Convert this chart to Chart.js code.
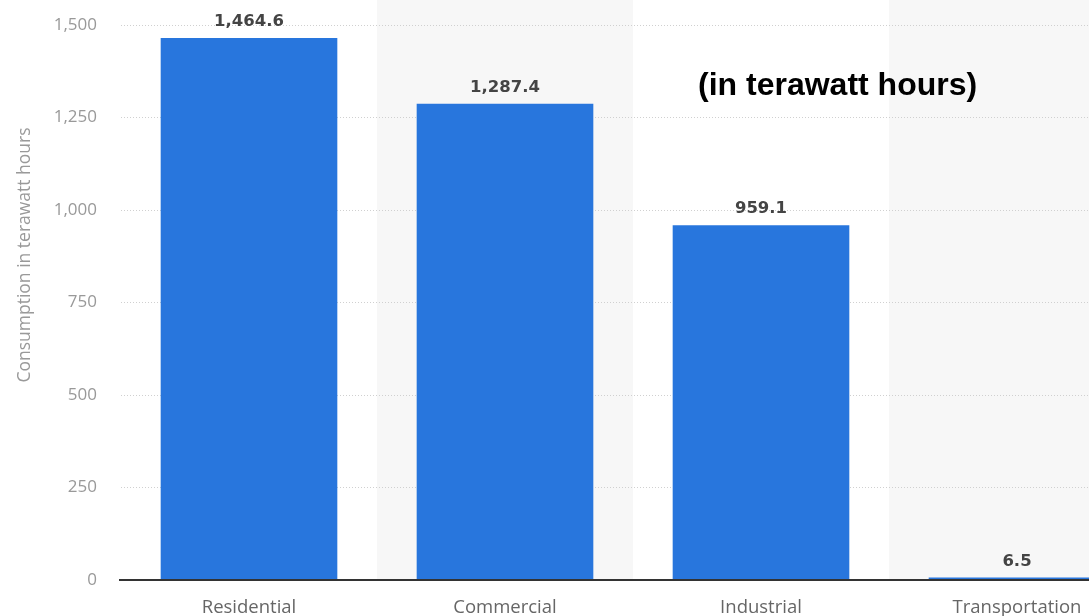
<!DOCTYPE html>
<html>
<head>
<meta charset="utf-8">
<script src="https://cdn.jsdelivr.net/npm/chart.js@4"></script>
<style>
  html, body { margin: 0; padding: 0; overflow: hidden; background: #fff; }
  #wrap { width: 1160px; height: 616px; }
</style>
</head>
<body>
<div id="wrap"><canvas id="usage"></canvas></div>
<script>
// chart values
const sectors = ["Residential", "Commercial", "Industrial", "Transportation"];
const consumption = [1464.6, 1287.4, 959.1, 6.5];
const yTicks = [0, 250, 500, 750, 1000, 1250, 1500];
const yTitle = "Consumption in terawatt hours";
const note = "(in terawatt hours)";

const fmt = (v, d) => v.toLocaleString('en-US', { minimumFractionDigits: d, maximumFractionDigits: d });

// alternating light bands behind every second category
const bands = {
  id: 'bands',
  beforeDraw(chart) {
    const { ctx, chartArea, scales } = chart;
    const x = scales.x;
    const step = x.getPixelForValue(1) - x.getPixelForValue(0);
    ctx.save();
    ctx.fillStyle = '#f7f7f7';
    sectors.forEach((s, i) => {
      if (i % 2 === 1) {
        const c = x.getPixelForValue(i);
        ctx.fillRect(c - step / 2, 0, step, chartArea.bottom);
      }
    });
    ctx.restore();
  }
};

// value labels, side note and rotated axis title
const extras = {
  id: 'extras',
  afterDatasetsDraw(chart) {
    const { ctx, chartArea } = chart;
    const meta = chart.getDatasetMeta(0);
    ctx.save();
    // axis line over the bars
    ctx.strokeStyle = '#333';
    ctx.lineWidth = 2;
    ctx.beginPath();
    ctx.moveTo(chartArea.left - 2, chartArea.bottom);
    ctx.lineTo(chartArea.right, chartArea.bottom);
    ctx.stroke();

    ctx.fillStyle = '#444';
    ctx.font = 'bold 16.5px "DejaVu Sans"';
    ctx.textAlign = 'center';
    ctx.textBaseline = 'bottom';
    meta.data.forEach((bar, i) => {
      ctx.fillText(fmt(consumption[i], 1), bar.x, bar.y - 8);
    });

    ctx.fillStyle = '#000';
    ctx.font = 'bold 32px "Liberation Sans"';
    ctx.textAlign = 'left';
    ctx.textBaseline = 'alphabetic';
    ctx.fillText(note, 698, 95);

    ctx.translate(25, 255);
    ctx.rotate(-Math.PI / 2);
    ctx.fillStyle = '#999';
    ctx.font = '17.5px "Open Sans"';
    ctx.textAlign = 'center';
    ctx.textBaseline = 'middle';
    ctx.fillText(yTitle, 0, 0);
    ctx.restore();
  }
};

new Chart(document.getElementById('usage'), {
  type: 'bar',
  data: {
    labels: sectors,
    datasets: [{
      data: consumption,
      backgroundColor: '#2876dd',
      categoryPercentage: 1,
      barPercentage: 0.69
    }]
  },
  options: {
    responsive: true,
    maintainAspectRatio: false,
    animation: false,
    layout: { padding: { top: 25, right: 15, left: 0, bottom: 0 } },
    plugins: { legend: { display: false }, tooltip: { enabled: false } },
    scales: {
      x: {
        grid: { display: false, drawTicks: false },
        border: { display: false },
        ticks: { color: '#666', font: { family: 'Open Sans', size: 18.5 }, padding: 17, maxRotation: 0 },
        afterFit(s) { s.height = 36; s.paddingLeft = 0; s.paddingRight = 0; }
      },
      y: {
        min: 0,
        max: 1500,
        afterBuildTicks(s) { s.ticks = yTicks.map(v => ({ value: v })); },
        grid: { color: '#d0d0d0', drawTicks: false },
        border: { display: false, dash: [1, 2] },
        ticks: { color: '#999', font: { family: 'Open Sans', size: 17 }, padding: 24,
                 callback: v => fmt(v, 0) },
        afterFit(s) { s.width = 121; s.paddingTop = 0; s.paddingBottom = 0; }
      }
    }
  },
  plugins: [bands, extras]
});
</script>
</body>
</html>
